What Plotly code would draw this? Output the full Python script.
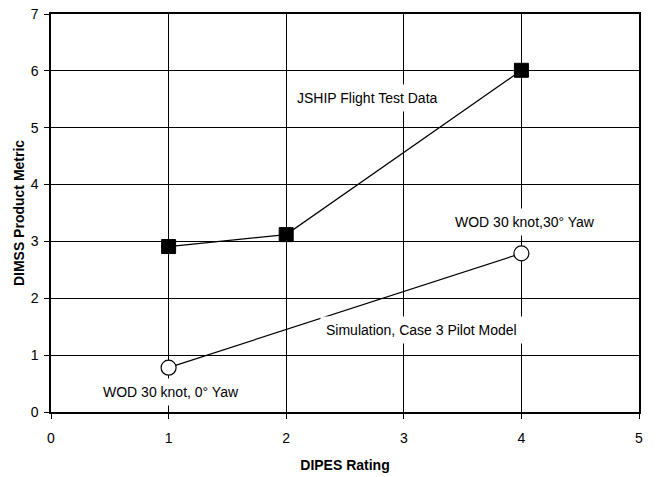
import plotly.graph_objects as go

# Data
jship_x = [1, 2, 4]
jship_y = [2.91, 3.12, 6.01]
sim_x = [1, 4]
sim_y = [0.78, 2.79]

x_title = "DIPES Rating"
y_title = "DIMSS Product Metric"

labels = [
    ("JSHIP Flight Test Data", 2.69, 5.52),
    ("WOD 30 knot,30° Yaw", 4.03, 3.35),
    ("Simulation, Case 3 Pilot Model", 3.15, 1.44),
    ("WOD 30 knot, 0° Yaw", 1.02, 0.35),
]

font = "Liberation Sans, Arial, sans-serif"

fig = go.Figure()
fig.add_trace(go.Scatter(
    x=jship_x, y=jship_y, mode="lines+markers",
    line=dict(color="black", width=1.2),
    marker=dict(symbol="square", size=14, color="black", line=dict(color="black", width=1)),
    showlegend=False,
))
fig.add_trace(go.Scatter(
    x=sim_x, y=sim_y, mode="lines+markers",
    line=dict(color="black", width=1.2),
    marker=dict(symbol="circle", size=15, color="white", line=dict(color="black", width=1.2)),
    showlegend=False,
))

for text, x, y in labels:
    fig.add_annotation(
        x=x, y=y, xref="x", yref="y", text=text, showarrow=False,
        font=dict(family=font, size=14, color="black"),
        bgcolor="white", borderpad=5,
    )

axis_common = dict(
    showgrid=True, gridcolor="black", gridwidth=1,
    showline=True, linecolor="black", linewidth=1.5, mirror=True,
    zeroline=False, ticks="outside", ticklen=5, tickcolor="black",
    tickfont=dict(family=font, size=14, color="black"),
    dtick=1, automargin=False,
)

fig.update_xaxes(range=[0, 5], tick0=0, ticklabelstandoff=7,
                 title=dict(text="<b>" + x_title + "</b>",
                            font=dict(family=font, size=14, color="black"), standoff=16),
                 **axis_common)
fig.update_yaxes(range=[0, 7], tick0=0, ticklabelstandoff=3,
                 title=dict(text="<b>" + y_title + "</b>",
                            font=dict(family=font, size=14, color="black"), standoff=3),
                 **axis_common)

fig.update_layout(
    width=656, height=477,
    margin=dict(l=51, r=17, t=14, b=65),
    paper_bgcolor="white", plot_bgcolor="white",
)

fig.write_html("out.html")
